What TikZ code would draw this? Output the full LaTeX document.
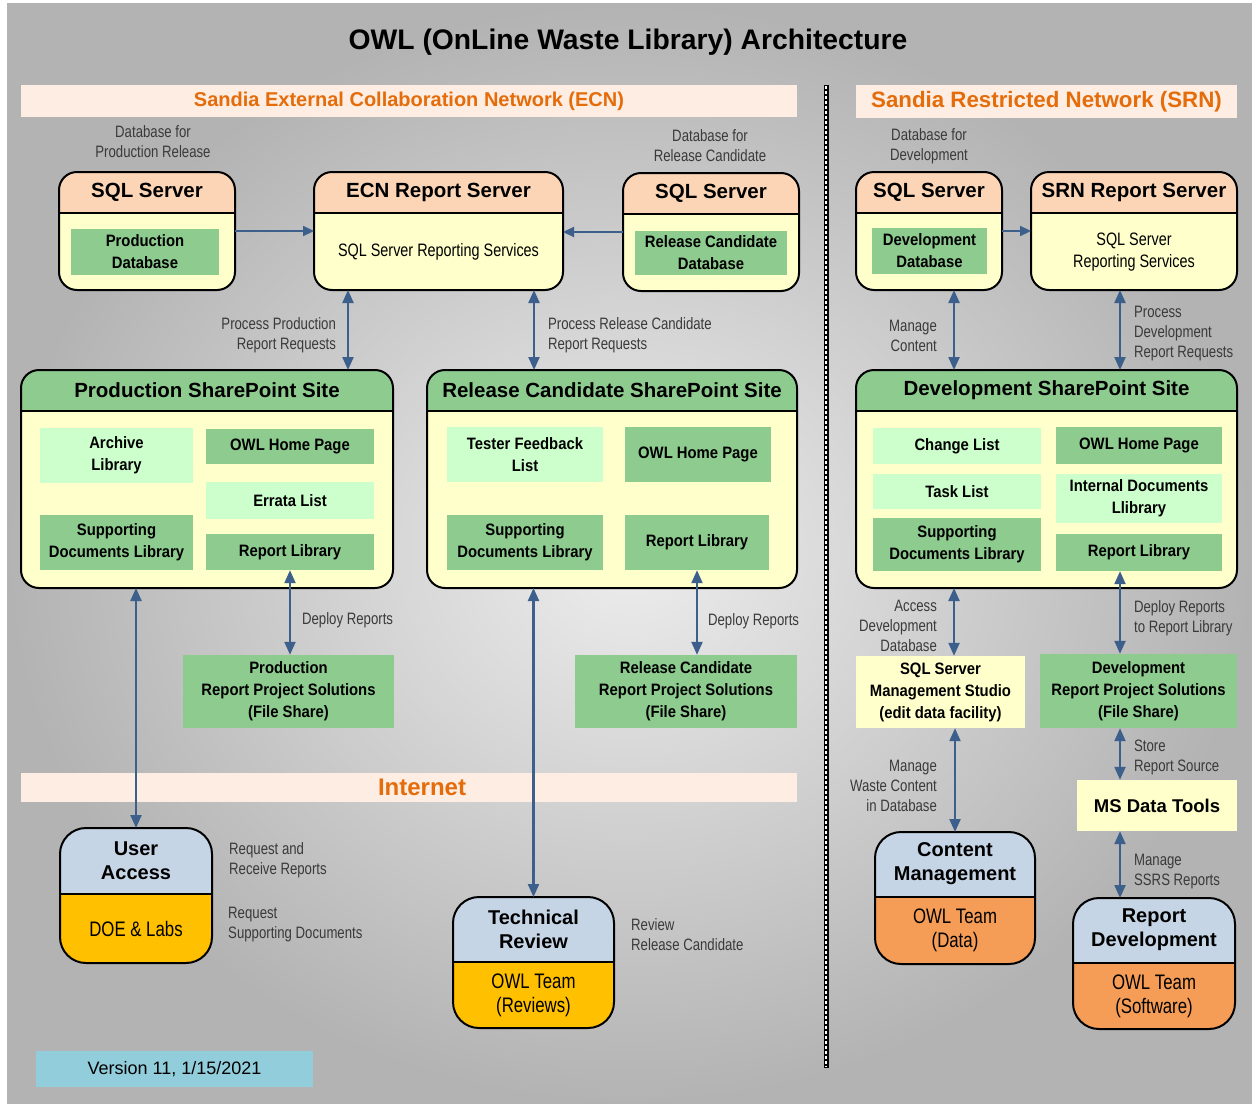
\documentclass[tikz,border=0pt]{standalone}
\usepackage{fontspec}
\setmainfont{Liberation Sans}
\newfontfamily\narrowfont[FakeStretch=0.8]{Liberation Sans}
\newfontfamily\snugfont[FakeStretch=0.9]{Liberation Sans}
\usepackage{tikz}
\usetikzlibrary{arrows.meta, positioning}

\definecolor{bgout}{HTML}{B3B3B3}
\definecolor{bgin}{HTML}{EDEDED}
\definecolor{peach}{HTML}{FBD5B5}
\definecolor{cream}{HTML}{FFFFCC}
\definecolor{leaf}{HTML}{8DCB8F}
\definecolor{mint}{HTML}{CCFFCC}
\definecolor{steel}{HTML}{C6D5E6}
\definecolor{amber}{HTML}{FFC000}
\definecolor{tangerine}{HTML}{F59D56}
\definecolor{sky}{HTML}{92CDDC}
\definecolor{bandfill}{HTML}{FDEDE3}
\definecolor{rust}{HTML}{E46C0A}
\definecolor{wire}{HTML}{3D5F8C}
\definecolor{ink}{HTML}{3A3A3A}

\begin{document}
\begin{tikzpicture}[x=1pt, y=-1pt,
    duo/.style n args={3}{draw, line width=2pt, rounded corners=18pt, fill=#3,
      inner sep=0pt, outer sep=0pt,
      path picture={
        \fill[#2, sharp corners] (path picture bounding box.north west) rectangle ([yshift=-#1]path picture bounding box.north east);
        \draw[line width=2pt, sharp corners] ([yshift=-#1]path picture bounding box.north west) -- ([yshift=-#1]path picture bounding box.north east);
      }},
    hdr/.style={font=\bfseries\fontsize{20.5}{24}\selectfont, align=center, inner sep=0pt},
    who/.style={hdr, font=\bfseries\fontsize{20}{24}\selectfont},
    cell/.style={fill=leaf, font=\snugfont\bfseries\fontsize{16.5}{22}\selectfont, align=center, inner sep=0pt},
    lite/.style={cell, fill=mint},
    pale/.style={cell, fill=cream},
    body/.style={font=\narrowfont\fontsize{18}{22}\selectfont, align=center, inner sep=0pt},
    team/.style={font=\narrowfont\fontsize{21}{24}\selectfont, align=center, inner sep=0pt},
    note/.style={font=\narrowfont\fontsize{16.5}{20}\selectfont, text=ink, inner sep=0pt},
    band/.style={fill=bandfill, text=rust, inner sep=0pt},
    flow/.style={draw=wire, line width=2.2pt, -{Triangle[width=10pt,length=11pt]}},
    link/.style={draw=wire, line width=2.2pt, {Triangle[width=11pt,length=13pt]}-{Triangle[width=11pt,length=13pt]}}]

  \useasboundingbox (0,0) rectangle (1252,1103);
  \shade[inner color=bgin, outer color=bgout] (7,3) rectangle (1252,1103);

  \node[font=\bfseries\fontsize{28.3}{34}\selectfont] (title) at (628,42) {OWL (OnLine Waste Library) Architecture};

  % network bands
  \node[band, minimum width=776pt, minimum height=32pt, font=\bfseries\fontsize{20}{24}\selectfont] (ecn) at (409,101) {Sandia External Collaboration Network (ECN)};
  \node[band, minimum width=381pt, minimum height=33pt, font=\bfseries\fontsize{22.3}{26}\selectfont] (srn) at (1046.5,101.5) {Sandia Restricted Network (SRN)};
  \node[band, minimum width=776pt, minimum height=29pt] (net) at (409,787.5) {};
  \node[text=rust, font=\bfseries\fontsize{24}{28}\selectfont, inner sep=0pt] (nettext) at (422,787.5) {Internet};

  \draw[line width=5pt] (826,85) -- (826,1068);
  \draw[white, line width=1.8pt, dash pattern=on 3pt off 2pt] (826,86) -- (826,1067);

  % servers
  \node[duo={41pt}{peach}{cream}, minimum width=176pt, minimum height=118pt] (prodsql) at (147,231) {};
  \node[hdr] (prodsql-t) at ([yshift=-20.5pt]prodsql.north) {SQL Server};
  \node[cell, minimum width=148pt, minimum height=46pt] (proddb) at (145,252) {Production\\Database};
  \node[note, align=center] (prodsql-n) at (153,142) {Database for\\Production Release};

  \node[duo={41pt}{peach}{cream}, minimum width=249pt, minimum height=118pt] (ecnrs) at (438.5,231) {};
  \node[hdr] (ecnrs-t) at ([yshift=-20.5pt]ecnrs.north) {ECN Report Server};
  \node[body] (ecnrs-b) at (438.5,252) {SQL Server Reporting Services};

  \node[duo={41pt}{peach}{cream}, minimum width=176pt, minimum height=118pt] (rcsql) at (711,232) {};
  \node[hdr] (rcsql-t) at ([yshift=-20.5pt]rcsql.north) {SQL Server};
  \node[cell, minimum width=152pt, minimum height=44pt] (rcdb) at (711,253) {Release Candidate\\Database};
  \node[note, align=center] (rcsql-n) at (710,146) {Database for\\Release Candidate};

  \node[duo={41pt}{peach}{cream}, minimum width=146pt, minimum height=118pt] (devsql) at (929,231) {};
  \node[hdr] (devsql-t) at ([yshift=-20.5pt]devsql.north) {SQL Server};
  \node[cell, minimum width=115pt, minimum height=46pt] (devdb) at (929.5,251) {Development\\Database};
  \node[note, align=center] (devsql-n) at (929,146) {Database for\\Development};

  \node[duo={41pt}{peach}{cream}, minimum width=206pt, minimum height=118pt] (srnrs) at (1134,231) {};
  \node[hdr] (srnrs-t) at ([yshift=-20.5pt]srnrs.north) {SRN Report Server};
  \node[body] (srnrs-b) at (1134,252) {SQL Server\\Reporting Services};

  % sharepoint sites
  \node[duo={41pt}{leaf}{cream}, minimum width=372pt, minimum height=218pt] (prodsp) at (207,479) {};
  \node[hdr] (prodsp-t) at ([yshift=-20.5pt]prodsp.north) {Production SharePoint Site};
  \node[lite, minimum width=153pt, minimum height=55pt] (arch) at (116.5,455.5) {Archive\\Library};
  \node[cell, minimum width=168pt, minimum height=35pt] (prodhome) at (290,446.5) {OWL Home Page};
  \node[lite, minimum width=168pt, minimum height=37pt] (errata) at (290,500.5) {Errata List};
  \node[cell, minimum width=153pt, minimum height=55pt] (prodsupp) at (116.5,542.5) {Supporting\\Documents Library};
  \node[cell, minimum width=168pt, minimum height=36pt] (prodlib) at (290,552) {Report Library};

  \node[duo={41pt}{leaf}{cream}, minimum width=370pt, minimum height=218pt] (rcsp) at (612,479) {};
  \node[hdr] (rcsp-t) at ([yshift=-20.5pt]rcsp.north) {Release Candidate SharePoint Site};
  \node[lite, minimum width=156pt, minimum height=55pt] (tester) at (525,454.5) {Tester Feedback\\List};
  \node[cell, minimum width=146pt, minimum height=55pt] (rchome) at (698,454.5) {OWL Home Page};
  \node[cell, minimum width=156pt, minimum height=55pt] (rcsupp) at (525,542.5) {Supporting\\Documents Library};
  \node[cell, minimum width=144pt, minimum height=55pt] (rclib) at (697,542.5) {Report Library};

  \node[duo={41pt}{leaf}{cream}, minimum width=381pt, minimum height=218pt] (devsp) at (1046.5,479) {};
  \node[hdr] (devsp-t) at ([yshift=-20.5pt]devsp.north) {Development SharePoint Site};
  \node[lite, minimum width=168pt, minimum height=36pt] (change) at (957,446) {Change List};
  \node[lite, minimum width=168pt, minimum height=35pt] (task) at (957,491.5) {Task List};
  \node[cell, minimum width=168pt, minimum height=53pt] (devsupp) at (957,544.5) {Supporting\\Documents Library};
  \node[cell, minimum width=166pt, minimum height=37pt] (devhome) at (1139,445.5) {OWL Home Page};
  \node[lite, minimum width=166pt, minimum height=49pt] (internal) at (1139,498.5) {Internal Documents\\Llibrary};
  \node[cell, minimum width=166pt, minimum height=37pt] (devlib) at (1139,552.5) {Report Library};

  % file shares and tools
  \node[cell, minimum width=211pt, minimum height=73pt] (prodfs) at (288.5,691.5) {Production\\Report Project Solutions\\(File Share)};
  \node[cell, minimum width=222pt, minimum height=73pt] (rcfs) at (686,691.5) {Release Candidate\\Report Project Solutions\\(File Share)};
  \node[pale, minimum width=169pt, minimum height=72pt] (ssms) at (940.5,692) {SQL Server\\Management Studio\\(edit data facility)};
  \node[cell, minimum width=197pt, minimum height=74pt] (devfs) at (1138.5,691) {Development\\Report Project Solutions\\(File Share)};
  \node[pale, minimum width=160pt, minimum height=51pt, font=\bfseries\fontsize{18.5}{22}\selectfont] (msdt) at (1157,805.5) {MS Data Tools};

  % people
  \node[duo={66pt}{steel}{amber}, rounded corners=26pt, minimum width=152pt, minimum height=135pt] (user) at (136,895.5) {};
  \node[who] (user-t) at ([yshift=-33pt]user.north) {User\\Access};
  \node[team] (user-b) at ([yshift=34.5pt]user.south) {DOE \& Labs};

  \node[duo={65pt}{steel}{amber}, rounded corners=26pt, minimum width=161pt, minimum height=131pt] (tech) at (533.5,962.5) {};
  \node[who] (tech-t) at ([yshift=-32.5pt]tech.north) {Technical\\Review};
  \node[team] (tech-b) at ([yshift=33pt]tech.south) {OWL Team\\(Reviews)};

  \node[duo={65pt}{steel}{tangerine}, rounded corners=26pt, minimum width=160pt, minimum height=132pt] (content) at (955,898) {};
  \node[who] (content-t) at ([yshift=-32pt]content.north) {Content\\Management};
  \node[team] (content-b) at ([yshift=33.5pt]content.south) {OWL Team\\(Data)};

  \node[duo={65pt}{steel}{tangerine}, rounded corners=26pt, minimum width=162pt, minimum height=131pt] (repdev) at (1154,963.5) {};
  \node[who] (repdev-t) at ([yshift=-32pt]repdev.north) {Report\\Development};
  \node[team] (repdev-b) at ([yshift=33pt]repdev.south) {OWL Team\\(Software)};

  \node[note, align=left, anchor=west] (user-n1) at ([xshift=17pt, yshift=35.5pt]user.east) {Request and\\Receive Reports};
  \node[note, align=left, anchor=west] (user-n2) at ([xshift=16pt, yshift=-29.5pt]user.east) {Request\\Supporting Documents};
  \node[note, align=left, anchor=west] (tech-n) at ([xshift=17pt, yshift=27.5pt]tech.east) {Review\\Release Candidate};

  \node[fill=sky, minimum width=277pt, minimum height=36pt, inner sep=0pt, font=\fontsize{18}{22}\selectfont] (ver) at (174.5,1069) {Version 11, 1/15/2021};

  % connectors
  \draw[flow] (prodsql) -- (ecnrs);
  \draw[flow] (rcsql.west) -- (rcsql.west -| ecnrs.east);
  \draw[flow] (devsql) -- (srnrs);

  \draw[link] ([xshift=-90.5pt]ecnrs.south) -- node[note, align=right, left=11pt, pos=0.57] (l-prodreq) {Process Production\\Report Requests} ([xshift=-90.5pt]ecnrs.south |- prodsp.north);
  \draw[link] ([xshift=95.5pt]ecnrs.south) -- node[note, align=left, right=13pt, pos=0.57] (l-rcreq) {Process Release Candidate\\Report Requests} ([xshift=95.5pt]ecnrs.south |- rcsp.north);
  \draw[link] ([xshift=25pt]devsql.south) -- node[note, align=right, left=16pt, pos=0.57] (l-content) {Manage\\Content} ([xshift=25pt]devsql.south |- devsp.north);
  \draw[link] ([xshift=-14pt]srnrs.south) -- node[note, align=left, right=13pt, pos=0.54] (l-devreq) {Process\\Development\\Report Requests} ([xshift=-14pt]srnrs.south |- devsp.north);

  \draw[link] (prodlib.south) -- node[note, right=11pt, pos=0.59] (l-proddeploy) {Deploy Reports} (prodlib.south |- prodfs.north);
  \draw[link] (rclib.south) -- node[note, right=10pt, pos=0.6] (l-rcdeploy) {Deploy Reports} (rclib.south |- rcfs.north);
  \draw[link] (user.north |- prodsp.south) -- (user.north);
  \draw[link] (tech.north |- rcsp.south) -- (tech.north);

  \draw[link] ([xshift=13.5pt]ssms.north |- devsp.south) -- node[note, align=right, left=16pt, pos=0.56] (l-access) {Access\\Development\\Database} ([xshift=13.5pt]ssms.north);
  \draw[link] ([xshift=-19pt]devlib.south) -- node[note, align=left, right=13pt, pos=0.57] (l-devdeploy) {Deploy Reports\\to Report Library} ([xshift=-19pt]devlib.south |- devfs.north);
  \draw[link] (content.north |- ssms.south) -- node[note, align=right, left=17pt, pos=0.56] (l-waste) {Manage\\Waste Content\\in Database} (content.north);
  \draw[link] ([xshift=-18.5pt]devfs.south) -- node[note, align=left, right=13pt, pos=0.56] (l-store) {Store\\Report Source} ([xshift=-18.5pt]devfs.south |- msdt.north);
  \draw[link] ([xshift=-37pt]msdt.south) -- node[note, align=left, right=13pt, pos=0.6] (l-ssrs) {Manage\\SSRS Reports} ([xshift=-37pt]msdt.south |- repdev.north);
\end{tikzpicture}
\end{document}
